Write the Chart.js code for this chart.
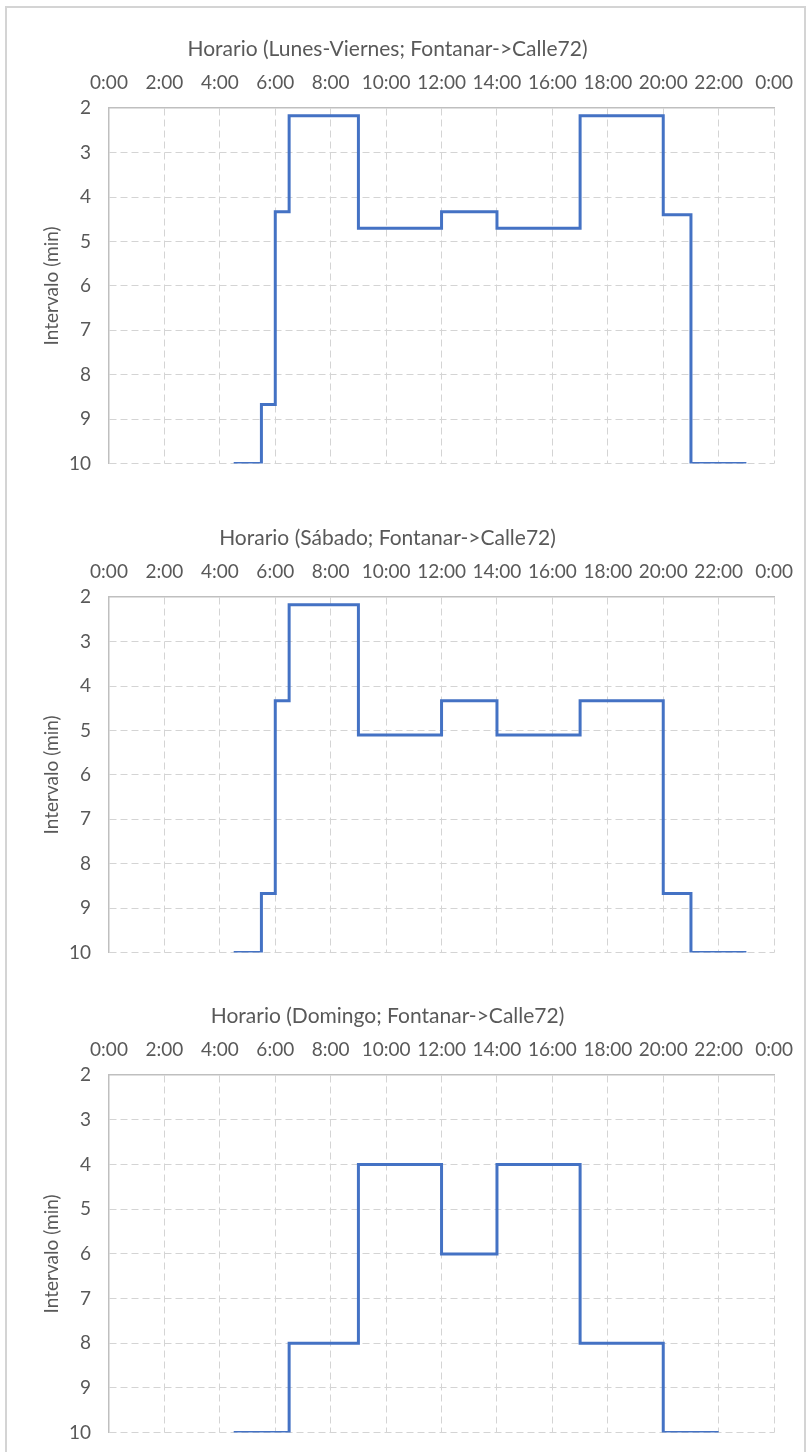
<!DOCTYPE html>
<html>
<head>
<meta charset="utf-8">
<script src="https://cdn.jsdelivr.net/npm/chart.js@4.4.1/dist/chart.umd.min.js"></script>
<style>
  body { margin: 0; background: #fff; width: 807px; height: 1452px; overflow: hidden; position: relative; }
  .frame { position: absolute; left: 5px; top: 6px; width: 801px; height: 1500px; border: 2px solid #d4d4d4; box-sizing: border-box; }
  .panel { position: absolute; left: 0; width: 807px; }
</style>
</head>
<body>
<div class="frame"></div>
<div class="panel" style="top:0px"><canvas id="chartLV" width="807" height="493"></canvas></div>
<div class="panel" style="top:489px"><canvas id="chartSab" width="807" height="493"></canvas></div>
<div class="panel" style="top:967px"><canvas id="chartDom" width="807" height="495"></canvas></div>
<script>
// hour of day where each interval starts; last entry closes the final step
const hourLabels = ['0:00', '2:00', '4:00', '6:00', '8:00', '10:00', '12:00', '14:00', '16:00', '18:00', '20:00', '22:00', '0:00'];

const timesLV = [4.5, 5.5, 6, 6.5, 9, 12, 14, 17, 20, 21, 23];
const intervalLV = [10, 8.67, 4.33, 2.17, 4.7, 4.33, 4.7, 2.17, 4.4, 10, 10];

const timesSab = [4.5, 5.5, 6, 6.5, 9, 12, 14, 17, 20, 21, 23];
const intervalSab = [10, 8.67, 4.33, 2.17, 5.1, 4.33, 5.1, 4.33, 8.67, 10, 10];

const timesDom = [4.5, 6.5, 9, 12, 14, 17, 20, 22];
const intervalDom = [10, 8, 4, 6, 4, 8, 10, 10];

const textColor = '#595959';
const tickFont = { family: 'Lato', size: 19, weight: 'normal' };
const titleFont = { family: 'Lato', size: 21, weight: 'normal' };

function buildChart(id, title, times, values) {
    const points = times.map((t, i) => ({ x: t, y: values[i] }));

    return new Chart(document.getElementById(id), {
        type: 'line',
        data: {
            datasets: [{
                data: points,
                borderColor: '#4472C4',
                borderWidth: 3,
                pointRadius: 0,
                stepped: 'before',
                fill: false
            }]
        },
        options: {
            responsive: false,
            animation: false,
            layout: { padding: { left: 0, right: 32, top: 0, bottom: 0 } },
            plugins: {
                legend: { display: false },
                tooltip: { enabled: false },
                title: {
                    display: true,
                    text: title,
                    color: textColor,
                    font: titleFont,
                    padding: { top: 37, bottom: 9 }
                }
            },
            scales: {
                x: {
                    type: 'linear',
                    position: 'top',
                    min: 0,
                    max: 24,
                    ticks: {
                        stepSize: 2,
                        padding: 14,
                        color: textColor,
                        font: tickFont,
                        maxRotation: 0,
                        autoSkip: false,
                        callback: v => hourLabels[v / 2]
                    },
                    grid: {
                        drawTicks: false,
                        lineWidth: 1,
                        color: ctx => ctx.tick && ctx.tick.value === 0 ? 'rgba(0,0,0,0)' : '#d4d4d4'
                    },
                    border: { display: true, color: '#bfbfbf', width: 1.5, dash: [7, 4] },
                    afterFit: s => { s.height = 37; }
                },
                y: {
                    min: 2,
                    max: 10,
                    reverse: true,
                    ticks: {
                        stepSize: 1,
                        padding: 18,
                        color: textColor,
                        font: tickFont
                    },
                    grid: {
                        drawTicks: false,
                        lineWidth: 1,
                        color: ctx => ctx.tick && ctx.tick.value === 2 ? 'rgba(0,0,0,0)' : '#d4d4d4'
                    },
                    border: { display: true, color: '#bfbfbf', width: 1.5, dash: [7, 4] },
                    title: {
                        display: true,
                        text: 'Intervalo (min)',
                        color: textColor,
                        font: tickFont,
                        padding: { top: 40, bottom: 0 }
                    },
                    afterFit: s => { s.width = 109; }
                }
            }
        }
    });
}

buildChart('chartLV', 'Horario (Lunes-Viernes; Fontanar->Calle72)', timesLV, intervalLV);
buildChart('chartSab', 'Horario (Sábado; Fontanar->Calle72)', timesSab, intervalSab);
buildChart('chartDom', 'Horario (Domingo; Fontanar->Calle72)', timesDom, intervalDom);
</script>
</body>
</html>
